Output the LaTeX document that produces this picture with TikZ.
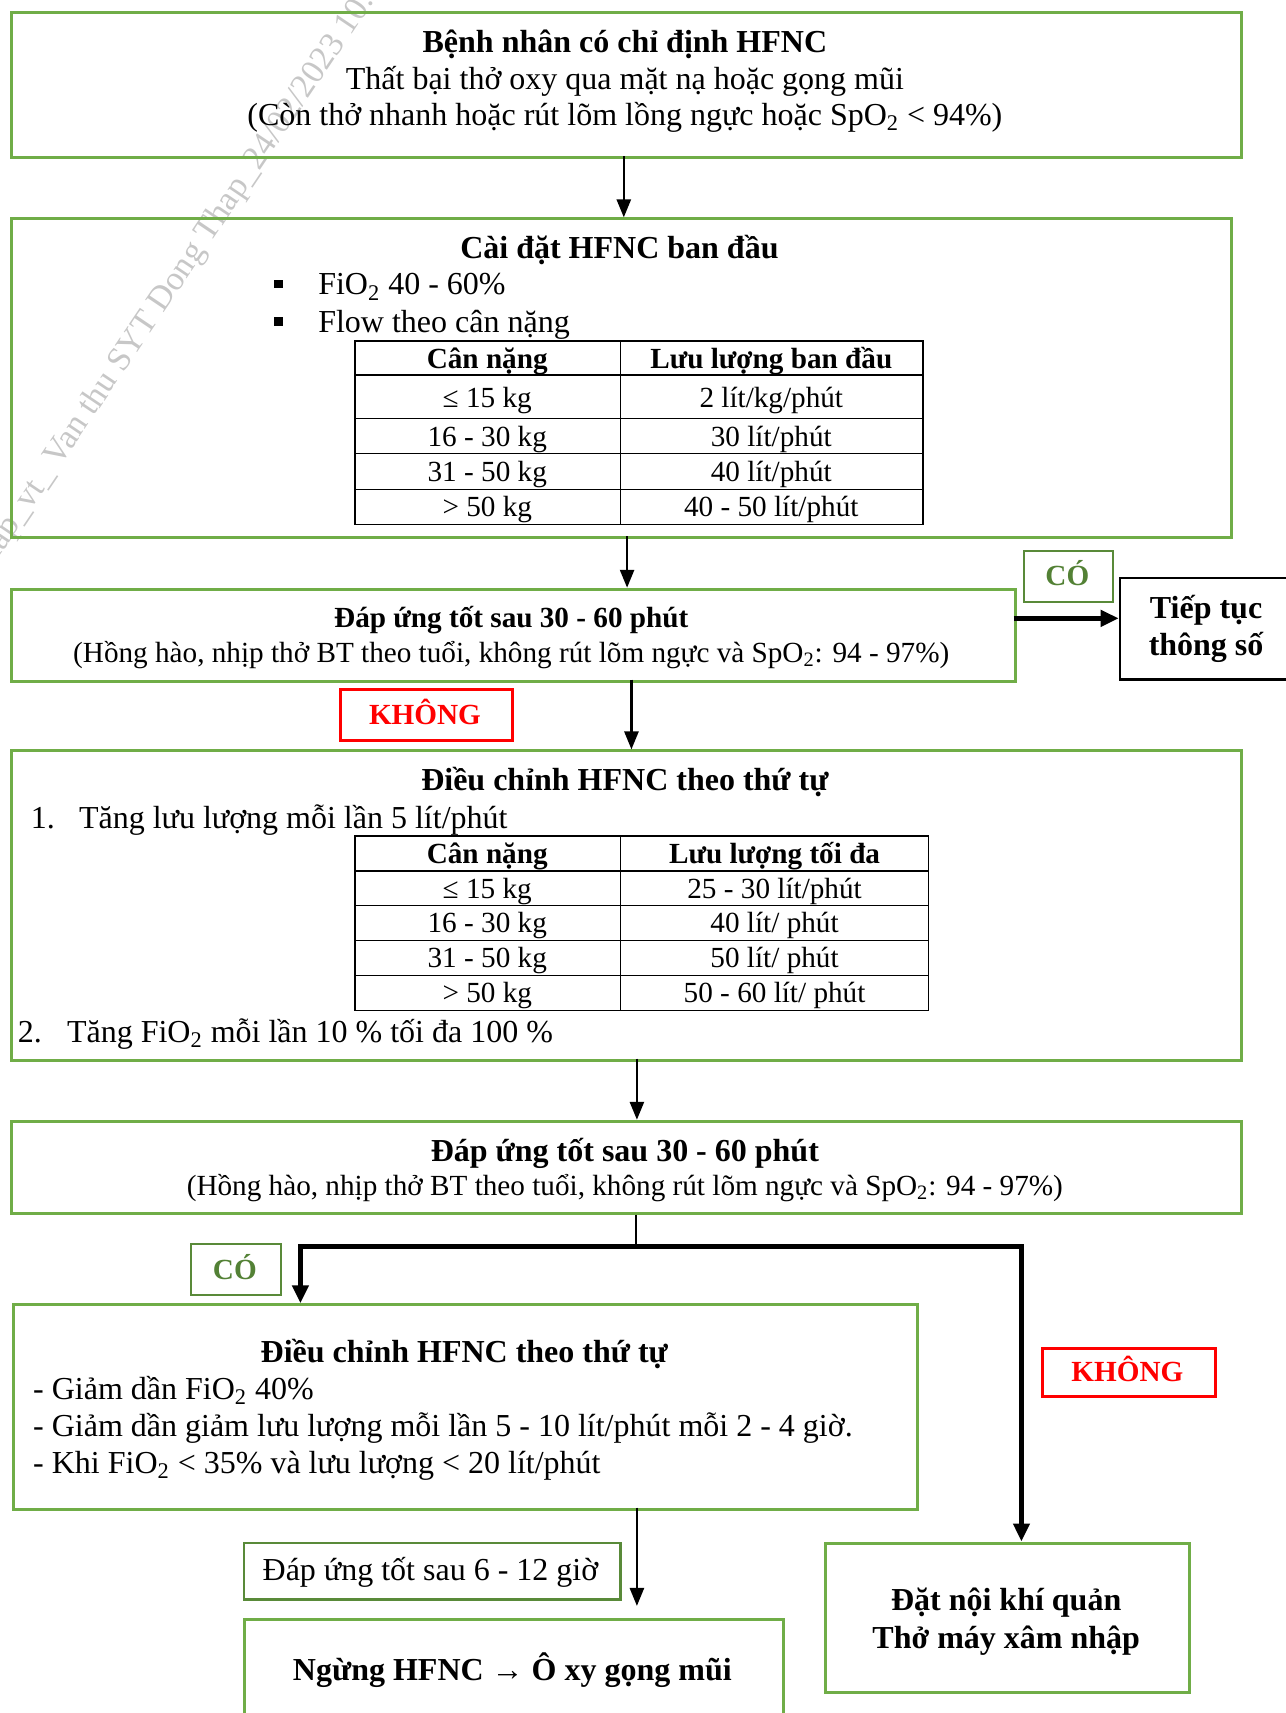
\documentclass[tikz,border=0pt]{standalone}
\usepackage{fontspec}
\setmainfont{Liberation Serif}
\usetikzlibrary{arrows.meta}
\definecolor{hfncGreen}{HTML}{70AD47}
\definecolor{hfncDark}{HTML}{538135}
\newcommand{\pxu}{0.5463pt}
\newcommand{\Otwo}{O\textsubscript{2}}
\newcommand{\smallsize}{\fontsize{14.6}{16.8}\selectfont}

\tikzset{
  gbox/.style={draw=hfncGreen, line width=1.5pt, anchor=north west, inner sep=0pt},
  kbox/.style={draw=black, line width=1.2pt, anchor=north west, inner sep=0pt},
  cobox/.style={draw=hfncDark!80!hfncGreen, line width=1.1pt, anchor=north west, inner sep=0pt},
  khbox/.style={draw=red, line width=1.5pt, anchor=north west, inner sep=0pt},
  txt/.style={anchor=base, inner sep=0pt},
  ttl/.style={txt, font=\bfseries},
  note/.style={txt, font=\smallsize},
  snote/.style={txt, font=\smallsize\bfseries},
  yes/.style={snote, text=hfncDark},
  no/.style={snote, text=red},
  bul/.style={fill=black, inner sep=0pt, minimum size=4.4pt},
  tline/.style={line width=0.8pt},
  flow/.style={-{Triangle[length=9pt,width=7pt]}, line width=1.3pt},
  bigflow/.style={-{Triangle[length=9pt,width=8pt]}, line width=2.2pt},
}

\begin{document}
\fontsize{16}{18.4}\selectfont
\begin{tikzpicture}[x=0.5463pt,y=-0.5463pt]
\useasboundingbox (0,0) rectangle (1177,1568);
\begin{scope}
\clip (0,0) rectangle (1177,1568);

% watermark
\node[anchor=base west, inner sep=0pt, rotate=56, text=black!22, font=\fontsize{17}{17}\selectfont] (wmark) at (-6,518) {hap\_vt\_ Van thu SYT Dong Thap\_24/02/2023 10:09};

% boxes
\node[gbox, minimum width=1126*\pxu, minimum height=133*\pxu] (init) at (9,10) {};
\node[gbox, minimum width=1117*\pxu, minimum height=292*\pxu] (setup) at (9,199) {};
\node[gbox, minimum width=919*\pxu, minimum height=84*\pxu] (resp) at (9,538) {};
\node[cobox, minimum width=82*\pxu, minimum height=47*\pxu] (coA) at (936,503) {};
\node[kbox, minimum width=165*\pxu, minimum height=93*\pxu] (keep) at (1024,528) {};
\node[khbox, minimum width=158*\pxu, minimum height=46*\pxu] (khA) at (310,630) {};
\node[gbox, minimum width=1126*\pxu, minimum height=283*\pxu] (adjust) at (9,686) {};
\node[gbox, minimum width=1126*\pxu, minimum height=84*\pxu] (respB) at (9,1025) {};
\node[cobox, minimum width=82*\pxu, minimum height=46*\pxu] (coB) at (174,1138) {};
\node[gbox, minimum width=827*\pxu, minimum height=187*\pxu] (wean) at (11,1193) {};
\node[khbox, minimum width=158*\pxu, minimum height=44*\pxu] (khB) at (953,1233) {};
\node[cobox, minimum width=345*\pxu, minimum height=52*\pxu] (late) at (222,1411) {};
\node[gbox, minimum width=494*\pxu, minimum height=110*\pxu] (stop) at (222,1481) {};
\node[gbox, minimum width=333*\pxu, minimum height=137*\pxu] (intub) at (754,1411) {};

% texts of the boxes
\node[ttl] (initT) at (572,48) {Bệnh nhân có chỉ định HFNC};
\node[txt] (initA) at (572,82) {Thất bại thở oxy qua mặt nạ hoặc gọng mũi};
\node[txt] (initB) at (572,115) {(Còn thở nhanh hoặc rút lõm lồng ngực hoặc Sp\Otwo{} < 94\%)};

\node[ttl] (setupT) at (567,237) {Cài đặt HFNC ban đầu};
\node[bul] (bulA) at (255,260) {};
\node[bul] (bulB) at (255,294) {};
\node[txt, anchor=base west] (setupA) at (291,270) {Fi\Otwo{} 40 - 60\%};
\node[txt, anchor=base west] (setupB) at (291,304) {Flow theo cân nặng};

\node[snote] (respT) at (468,574) {Đáp ứng tốt sau 30 - 60 phút};
\node[note] (respA) at (468,606) {(Hồng hào, nhịp thở BT theo tuổi, không rút lõm ngực và Sp\Otwo: 94 - 97\%)};
\node[yes] (coAT) at (977,536) {CÓ};
\node[ttl] (keepA) at (1104,566) {Tiếp tục};
\node[ttl] (keepB) at (1104,600) {thông số};
\node[no] (khAT) at (389,663) {KHÔNG};

\node[ttl] (adjustT) at (572,724) {Điều chỉnh HFNC theo thứ tự};
\node[txt, anchor=base west] (adjustN) at (28,758) {1.};
\node[txt, anchor=base west] (adjustA) at (72,758) {Tăng lưu lượng mỗi lần 5 lít/phút};
\node[txt, anchor=base west] (adjustM) at (16,954) {2.};
\node[txt, anchor=base west] (adjustB) at (61,954) {Tăng Fi\Otwo{} mỗi lần 10 \% tối đa 100 \%};

\node[ttl] (respBT) at (572,1063) {Đáp ứng tốt sau 30 - 60 phút};
\node[note] (respBA) at (572,1094) {(Hồng hào, nhịp thở BT theo tuổi, không rút lõm ngực và Sp\Otwo: 94 - 97\%)};
\node[yes] (coBT) at (215,1171) {CÓ};
\node[no] (khBT) at (1032,1265) {KHÔNG};

\node[ttl] (weanT) at (425,1247) {Điều chỉnh HFNC theo thứ tự};
\node[txt, anchor=base west] (weanA) at (30,1281) {- Giảm dần Fi\Otwo{} 40\%};
\node[txt, anchor=base west] (weanB) at (30,1315) {- Giảm dần giảm lưu lượng mỗi lần 5 - 10 lít/phút mỗi 2 - 4 giờ.};
\node[txt, anchor=base west] (weanC) at (30,1349) {- Khi Fi\Otwo{} < 35\% và lưu lượng < 20 lít/phút};

\node[txt] (lateT) at (394,1447) {Đáp ứng tốt sau 6 - 12 giờ};
\node[ttl] (stopT) at (469,1538) {Ngừng HFNC → Ô xy gọng mũi};
\node[ttl] (intubA) at (921,1474) {Đặt nội khí quản};
\node[ttl] (intubB) at (921,1509) {Thở máy xâm nhập};

% table of start flow
\draw[tline] (325,312) rectangle (845,480);
\draw[tline] (568,312) -- (568,480);
\foreach \ry in {343,383,415,448}
  \draw[tline] (325,\ry) -- (845,\ry);
\node[snote] (tabAh) at (446,337) {Cân nặng};
\node[snote] (tabAg) at (706,337) {Lưu lượng ban đầu};
\foreach \ry/\kg/\fl [count=\i] in {373/{≤ 15 kg}/{2 lít/kg/phút}, 409/{16 - 30 kg}/{30 lít/phút}, 441/{31 - 50 kg}/{40 lít/phút}, 473/{> 50 kg}/{40 - 50 lít/phút}}
{
  \node[note] (tabAk\i) at (446,\ry) {\kg};
  \node[note] (tabAf\i) at (706,\ry) {\fl};
}

% table of top flow
\draw[tline] (325,765) rectangle (850,925);
\draw[tline] (568,765) -- (568,925);
\foreach \ry in {797,829,861,893}
  \draw[tline] (325,\ry) -- (850,\ry);
\node[snote] (tabBh) at (446,790) {Cân nặng};
\node[snote] (tabBg) at (709,790) {Lưu lượng tối đa};
\foreach \ry/\kg/\fl [count=\i] in {822/{≤ 15 kg}/{25 - 30 lít/phút}, 854/{16 - 30 kg}/{40 lít/ phút}, 886/{31 - 50 kg}/{50 lít/ phút}, 918/{> 50 kg}/{50 - 60 lít/ phút}}
{
  \node[note] (tabBk\i) at (446,\ry) {\kg};
  \node[note] (tabBf\i) at (709,\ry) {\fl};
}

% connectors
\coordinate (atInit) at (571,143);
\coordinate (atSetup) at (574,491);
\coordinate (atResp) at (578,622);
\coordinate (atKeep) at (928,566);
\coordinate (atAdjust) at (583,969);
\coordinate (atSplit) at (582,1141);
\coordinate (splitL) at (275,1141);
\coordinate (splitR) at (935,1141);
\coordinate (atWean) at (583,1380);
\coordinate (atStop) at (583,1470);
\draw[flow] (atInit) -- (atInit |- setup.north);
\draw[flow] (atSetup) -- (atSetup |- resp.north);
\draw[bigflow] (atKeep) -- (atKeep -| keep.west);
\draw[flow] (atResp) -- (atResp |- adjust.north);
\draw[flow] (atAdjust) -- (atAdjust |- respB.north);
\draw[line width=1.3pt] (atSplit |- respB.south) -- (atSplit);
\draw[bigflow] (atSplit) -- (splitL) -- (splitL |- wean.north);
\draw[bigflow] (atSplit) -- (splitR) -- (splitR |- intub.north);
\draw[flow] (atWean) -- (atStop);
\end{scope}
\end{tikzpicture}
\end{document}
